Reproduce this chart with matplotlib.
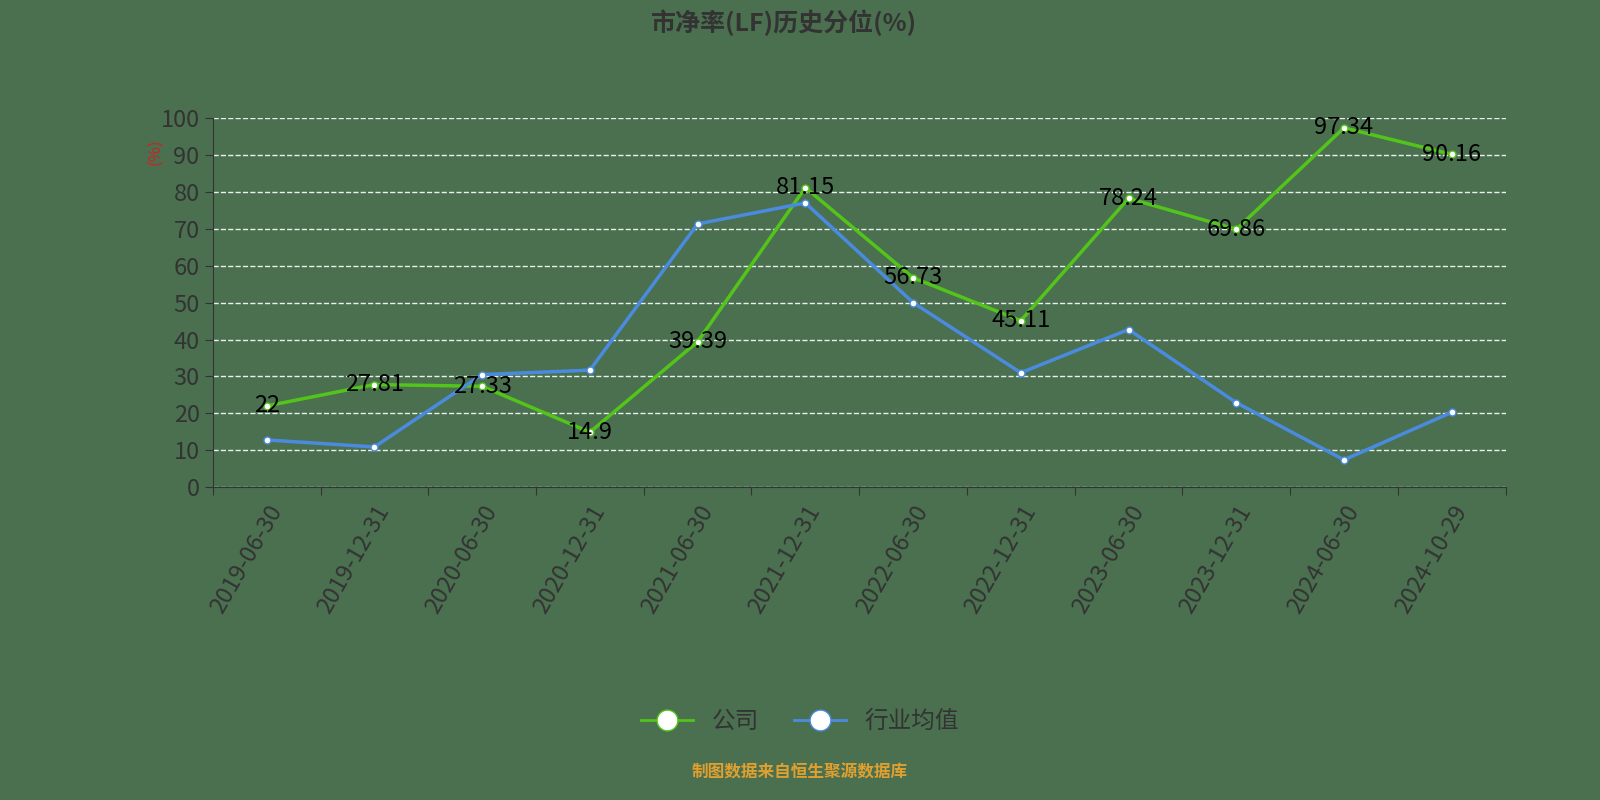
import matplotlib.pyplot as plt
import numpy as np

plt.rcParams['font.family'] = ['Noto Sans CJK SC', 'DejaVu Sans']

dates = ['2019-06-30', '2019-12-31', '2020-06-30', '2020-12-31', '2021-06-30', '2021-12-31',
         '2022-06-30', '2022-12-31', '2023-06-30', '2023-12-31', '2024-06-30', '2024-10-29']
company = [22, 27.81, 27.33, 14.9, 39.39, 81.15, 56.73, 45.11, 78.24, 69.86, 97.34, 90.16]
industry = [12.8, 10.9, 30.5, 31.7, 71.3, 77.0, 50.0, 31.0, 42.7, 22.9, 7.4, 20.3]

bg = '#4a7050'
fig = plt.figure(figsize=(16, 8), dpi=100, facecolor=bg)
ax = fig.add_axes([0.133, 0.391, 0.808, 0.4615], facecolor=bg)

x = np.arange(len(dates))
ax.plot(x, company, color='#52c41a', lw=2.5, marker='o', ms=5, mfc='white', mec='#52c41a', zorder=3)
ax.plot(x, industry, color='#4a8be0', lw=2.5, marker='o', ms=5, mfc='white', mec='#4a8be0', zorder=3)
for xi, v in zip(x, company):
    ax.text(xi, v, f'{v:g}', ha='center', va='center', fontsize=17, color='black', zorder=4)

ax.set_xlim(-0.5, len(dates) - 0.5)
ax.set_ylim(0, 100)
ax.set_yticks(range(0, 101, 10))
ax.set_xticks(np.arange(-0.5, len(dates), 1), minor=False)
ax.set_xticklabels([])
ax.set_xticks(x, minor=True)
ax.set_xticklabels(dates, minor=True, rotation=60, ha='right', rotation_mode='anchor',
                   fontsize=17, color='#333333')
ax.tick_params(axis='x', which='minor', length=0, pad=10)
ax.tick_params(axis='x', which='major', length=6, color='#333333')
ax.tick_params(axis='y', labelsize=17, labelcolor='#333333', length=6, color='#333333')
ax.grid(axis='y', color='white', ls='--', lw=1, alpha=0.9)
for s in ['top', 'right']:
    ax.spines[s].set_visible(False)
ax.spines['left'].set_color('#333333')
ax.spines['bottom'].set_color('#333333')

fig.text(0.097, 0.81, '(%)', rotation=90, color='#cc2222', fontsize=12, ha='center', va='center')
fig.text(0.49, 0.972, '市净率(LF)历史分位(%)', ha='center', va='center', fontsize=18,
         fontweight='bold', color='#333333')

ax.plot([], [], color='#52c41a', lw=2, marker='o', ms=15, mfc='white', mec='#52c41a', label='公司')
ax.plot([], [], color='#4a8be0', lw=2, marker='o', ms=15, mfc='white', mec='#4a8be0', label='行业均值')
h, l = ax.get_legend_handles_labels()
fig.legend(h[-2:], l[-2:], loc='center', bbox_to_anchor=(0.5, 0.098), ncol=2, frameon=False,
           fontsize=17, labelcolor='#333333', handlelength=2.2, columnspacing=1.5)

fig.text(0.5, 0.034, '制图数据来自恒生聚源数据库', ha='center', va='center', fontsize=12,
         fontweight='bold', color='#e0a030')

plt.savefig('out.png', dpi=100, facecolor=bg)
